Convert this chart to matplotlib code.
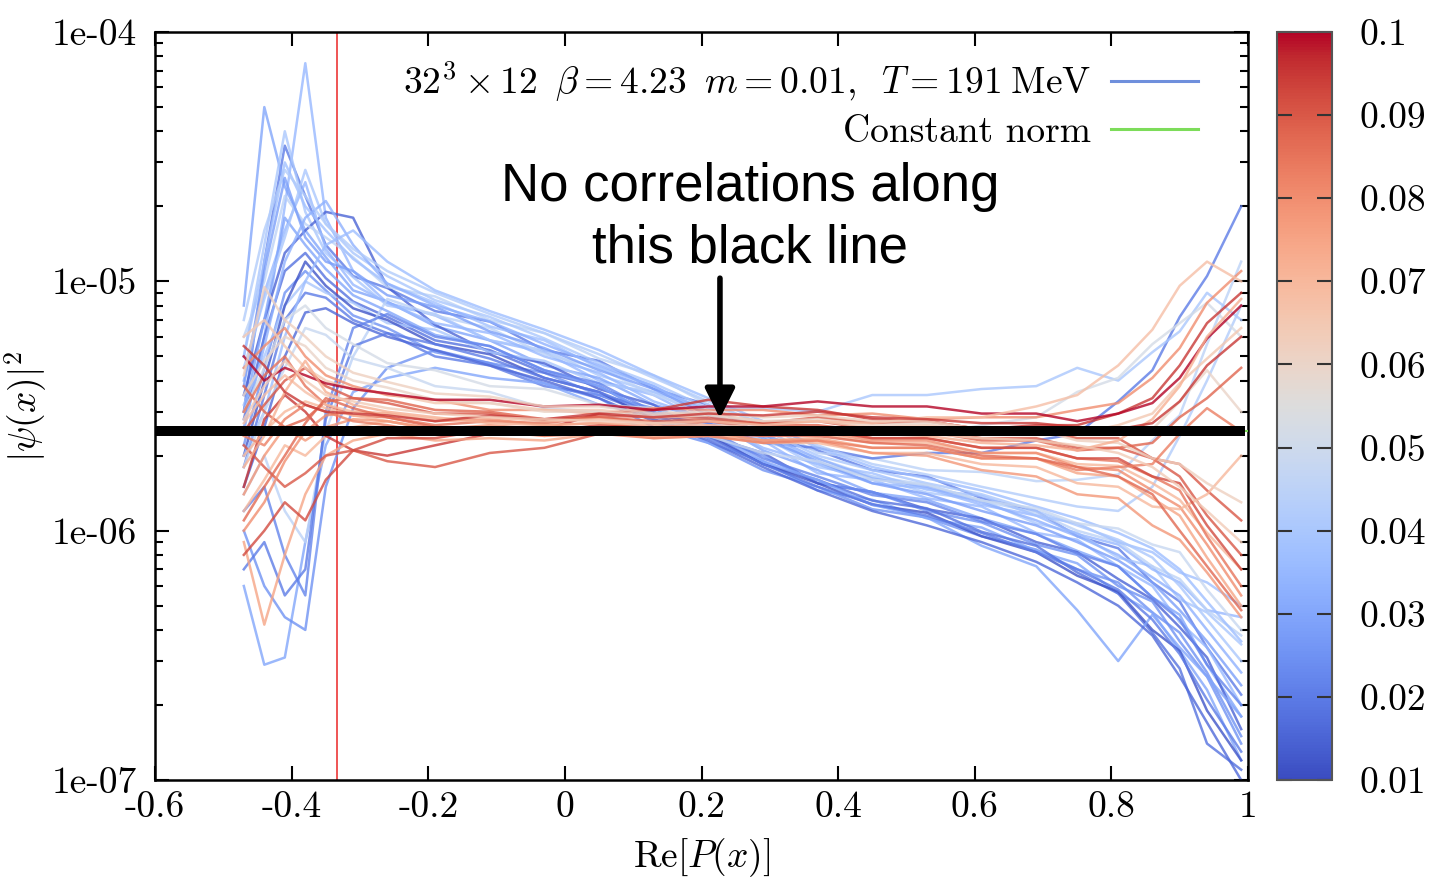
import numpy as np
import matplotlib.pyplot as plt
from matplotlib.colors import Normalize
from matplotlib.cm import ScalarMappable
from matplotlib.lines import Line2D
from matplotlib.ticker import FixedLocator, FixedFormatter, LogLocator, NullFormatter, NullLocator

plt.rcParams['font.family'] = 'cmr10'
plt.rcParams['mathtext.fontset'] = 'cm'
plt.rcParams['axes.unicode_minus'] = False

# Re[P(x)] bins
x_pts = [-0.47, -0.44, -0.41, -0.38, -0.35, -0.31, -0.26, -0.19, -0.11, -0.03, 0.05, 0.13,
         0.21, 0.29, 0.37, 0.45, 0.53, 0.61, 0.69, 0.75, 0.81, 0.86, 0.90, 0.94, 0.99]

# |psi(x)|^2 in units of 1e-6, one row per configuration; colour value per row
blue_c = [0.02, 0.035, 0.03, 0.04, 0.015, 0.025, 0.045, 0.02, 0.03,
          0.025, 0.035, 0.018, 0.04, 0.012, 0.045, 0.03, 0.022, 0.038,
          0.04, 0.028, 0.033, 0.042, 0.016, 0.037, 0.02]
blue_y = [
    [3.0, 12, 35, 22, 14, 10.5, 9.4, 7.6, 6.9, 5.3, 4.8, 3.7, 3.2, 2.4, 2.1, 1.75, 1.65, 1.35, 1.2, 0.95, 0.85, 0.62, 0.52, 0.34, 0.22],
    [2.5, 6.0, 20, 75, 18, 11, 8.2, 7.3, 5.8, 5.2, 4.0, 3.5, 2.7, 2.3, 1.7, 1.6, 1.35, 1.25, 0.98, 0.92, 0.72, 0.6, 0.43, 0.34, 0.2],
    [8.0, 50, 24, 16, 12.5, 9.2, 8.3, 6.6, 5.8, 4.6, 4.1, 3.2, 2.8, 2.1, 1.75, 1.42, 1.33, 1.12, 0.97, 0.83, 0.72, 0.54, 0.46, 0.29, 0.18],
    [5.0, 14, 40, 19, 13, 10.4, 8.0, 7.4, 5.8, 5.3, 4.2, 3.6, 2.8, 2.4, 1.8, 1.65, 1.42, 1.33, 1.07, 0.98, 0.78, 0.72, 0.53, 0.47, 0.35],
    [3.5, 7.0, 13, 16, 19, 18, 9.5, 6.7, 5.2, 4.7, 3.7, 3.2, 2.4, 2.05, 1.55, 1.43, 1.22, 1.12, 0.9, 0.82, 0.64, 0.53, 0.41, 0.31, 0.16],
    [2.2, 4.5, 9.0, 11, 9.2, 7.3, 6.5, 5.2, 4.7, 3.9, 3.4, 2.6, 2.25, 1.75, 1.5, 1.22, 1.13, 0.95, 0.84, 0.7, 0.62, 0.47, 0.39, 0.27, 0.15],
    [6.0, 10, 22, 17, 15, 12.5, 9.5, 8.7, 7.0, 6.2, 4.9, 4.2, 3.2, 2.7, 2.05, 1.95, 1.75, 1.72, 1.58, 1.6, 1.68, 2.3, 2.9, 5.6, 12],
    [1.8, 3.5, 7.0, 9.0, 8.6, 7.0, 6.2, 5.0, 4.6, 3.8, 3.5, 2.9, 2.7, 2.25, 2.15, 1.95, 2.05, 2.05, 2.3, 2.45, 3.3, 4.4, 7.2, 10.5, 20],
    [0.6, 0.29, 0.31, 0.9, 2.2, 3.6, 4.1, 4.5, 4.1, 3.9, 3.2, 2.9, 2.25, 1.9, 1.45, 1.33, 1.12, 1.03, 0.83, 0.74, 0.56, 0.47, 0.33, 0.23, 0.12],
    [1.0, 0.6, 0.45, 0.4, 1.5, 3.1, 4.5, 5.3, 4.7, 4.3, 3.5, 3.1, 2.4, 2.0, 1.55, 1.43, 1.2, 1.08, 0.88, 0.8, 0.6, 0.52, 0.36, 0.26, 0.14],
    [4.0, 9.0, 16, 25, 13.5, 9.7, 8.2, 6.8, 6.2, 5.0, 4.3, 3.3, 2.8, 2.15, 1.85, 1.55, 1.48, 1.27, 1.15, 0.97, 0.88, 0.7, 0.62, 0.48, 0.45],
    [2.8, 6.0, 11, 13, 10.3, 8.3, 7.2, 5.8, 5.3, 4.3, 3.8, 2.9, 2.45, 1.85, 1.6, 1.32, 1.23, 0.99, 0.87, 0.68, 0.56, 0.39, 0.28, 0.14, 0.11],
    [3.2, 5.0, 8.0, 10, 9.0, 8.2, 6.8, 6.4, 5.2, 4.8, 3.9, 3.6, 3.1, 3.1, 3.0, 3.5, 3.5, 3.7, 3.8, 4.5, 4.0, 5.2, 6.3, 9.0, 7.0],
    [2.0, 4.0, 8.0, 12, 9.6, 7.8, 7.0, 5.6, 5.1, 4.1, 3.6, 2.8, 2.4, 1.85, 1.55, 1.27, 1.18, 0.95, 0.82, 0.66, 0.57, 0.4, 0.33, 0.19, 0.12],
    [1.4, 2.0, 1.2, 0.9, 2.5, 5.0, 8.5, 7.3, 6.5, 5.1, 4.5, 3.5, 3.0, 2.3, 1.95, 1.65, 1.53, 1.32, 1.18, 1.0, 0.9, 0.72, 0.64, 0.48, 0.38],
    [3.0, 7.0, 18, 14, 11.2, 8.8, 7.6, 6.1, 5.5, 4.4, 3.8, 2.9, 2.5, 1.9, 1.6, 1.27, 1.13, 0.87, 0.72, 0.48, 0.3, 0.46, 0.34, 0.26, 0.18],
    [1.2, 1.5, 0.8, 0.55, 3.0, 6.5, 7.4, 6.0, 5.5, 4.4, 3.9, 3.0, 2.55, 1.95, 1.65, 1.39, 1.3, 1.09, 0.97, 0.81, 0.72, 0.54, 0.44, 0.29, 0.2],
    [5.0, 12, 30, 20, 16, 12.3, 9.8, 8.2, 6.6, 5.8, 4.5, 3.8, 2.9, 2.5, 1.85, 1.7, 1.46, 1.38, 1.15, 1.07, 0.9, 0.82, 0.68, 0.62, 0.5],
    [4.5, 8.5, 15, 28, 17, 13, 10.5, 8.4, 7.2, 5.9, 4.7, 3.9, 3.1, 2.55, 2.0, 1.75, 1.55, 1.4, 1.2, 1.05, 0.92, 0.78, 0.6, 0.44, 0.3],
    [3.8, 11, 26, 15, 12, 11, 8.8, 7.9, 6.3, 5.4, 4.4, 3.7, 2.9, 2.35, 1.9, 1.55, 1.4, 1.2, 1.05, 0.9, 0.76, 0.62, 0.48, 0.36, 0.24],
    [2.6, 5.5, 12, 18, 21, 14, 9.8, 8.0, 6.9, 5.6, 4.6, 3.8, 3.0, 2.45, 1.95, 1.62, 1.5, 1.3, 1.1, 0.95, 0.8, 0.65, 0.55, 0.4, 0.27],
    [7.0, 16, 28, 22, 17, 13.5, 11, 9.0, 7.4, 6.2, 5.1, 4.1, 3.3, 2.65, 2.2, 1.85, 1.68, 1.5, 1.35, 1.25, 1.2, 1.5, 2.4, 4.0, 8.0],
    [1.5, 2.6, 5.0, 7.5, 7.8, 6.8, 6.0, 5.3, 4.6, 4.0, 3.4, 2.75, 2.3, 1.8, 1.45, 1.2, 1.05, 0.9, 0.75, 0.62, 0.5, 0.38, 0.26, 0.17, 0.1],
    [2.0, 3.0, 6.0, 10, 14, 16, 12, 9.2, 7.6, 6.4, 5.3, 4.2, 3.4, 2.75, 2.15, 1.8, 1.62, 1.45, 1.25, 1.12, 0.98, 0.85, 0.7, 0.52, 0.36],
    [0.7, 0.9, 0.55, 0.7, 2.8, 5.5, 6.2, 5.6, 4.9, 4.1, 3.6, 2.95, 2.35, 1.85, 1.5, 1.28, 1.15, 0.98, 0.82, 0.7, 0.58, 0.44, 0.32, 0.21, 0.13],
]

grey_c = [0.052, 0.048]
grey_y = [
    [3.0, 4.5, 7.0, 8.0, 6.5, 5.6, 4.7, 4.4, 3.8, 3.7, 3.2, 3.1, 2.75, 2.65, 2.4, 2.45, 2.4, 2.65, 2.85, 3.6, 4.1, 5.6, 6.8, 8.2, 6.0],
    [1.8, 3.0, 4.5, 6.5, 6.1, 4.9, 4.5, 3.8, 3.6, 3.1, 3.0, 2.5, 2.4, 2.05, 1.9, 1.6, 1.53, 1.32, 1.23, 1.07, 1.02, 0.88, 0.82, 0.58, 0.4],
]

red_c = [0.09, 0.08, 0.07, 0.095, 0.085, 0.065, 0.075, 0.09, 0.06,
         0.08, 0.1, 0.07, 0.088, 0.078, 0.068, 0.092, 0.062, 0.083,
         0.072, 0.087, 0.095, 0.064]
red_y = [
    [2.5, 3.2, 4.0, 4.5, 3.8, 3.4, 3.25, 2.95, 2.95, 2.75, 2.9, 2.85, 2.85, 2.7, 2.75, 2.55, 2.55, 2.35, 2.35, 2.15, 2.15, 1.95, 1.85, 1.45, 1.1],
    [4.5, 5.5, 6.5, 5.0, 4.2, 3.8, 3.5, 3.35, 3.05, 3.05, 2.95, 3.1, 3.05, 3.05, 2.9, 2.95, 2.8, 2.85, 2.85, 3.05, 3.25, 4.1, 5.4, 8.2, 11],
    [1.2, 1.6, 2.2, 2.0, 2.4, 2.6, 2.75, 2.55, 2.55, 2.4, 2.55, 2.5, 2.55, 2.4, 2.45, 2.25, 2.25, 2.05, 2.05, 1.85, 1.82, 1.55, 1.33, 0.98, 0.7],
    [1.5, 2.8, 3.5, 3.0, 2.4, 2.1, 2.0, 2.2, 2.45, 2.55, 2.95, 3.05, 3.35, 3.15, 3.05, 2.8, 2.75, 2.55, 2.65, 2.65, 2.95, 3.4, 4.6, 6.8, 9.0],
    [3.0, 4.2, 5.0, 3.8, 3.2, 2.9, 2.85, 2.65, 2.75, 2.7, 2.85, 2.7, 2.75, 2.55, 2.55, 2.35, 2.35, 2.15, 2.15, 1.95, 1.9, 1.65, 1.45, 0.95, 0.6],
    [6.0, 7.0, 5.5, 4.5, 4.0, 3.7, 3.55, 3.25, 3.25, 3.05, 3.05, 2.9, 2.95, 2.75, 2.75, 2.6, 2.65, 2.5, 2.55, 2.45, 2.65, 2.95, 3.9, 4.9, 6.5],
    [0.9, 0.42, 0.8, 1.4, 2.0, 2.3, 2.45, 2.3, 2.35, 2.3, 2.45, 2.4, 2.45, 2.3, 2.35, 2.15, 2.15, 1.95, 1.95, 1.7, 1.65, 1.35, 1.15, 0.78, 0.5],
    [2.2, 1.8, 1.5, 1.7, 2.0, 2.1, 1.9, 1.8, 2.05, 2.15, 2.45, 2.55, 2.75, 2.7, 2.85, 2.7, 2.75, 2.55, 2.55, 2.35, 2.35, 1.95, 1.65, 1.15, 0.8],
    [3.5, 4.8, 6.0, 5.5, 4.5, 4.0, 3.75, 3.35, 3.25, 3.0, 3.0, 2.85, 2.9, 2.75, 2.8, 2.65, 2.7, 2.55, 2.6, 2.45, 2.5, 2.55, 3.3, 4.4, 3.0],
    [1.0, 1.3, 1.9, 2.5, 2.9, 3.0, 2.95, 2.75, 2.8, 2.65, 2.7, 2.55, 2.6, 2.45, 2.5, 2.3, 2.3, 2.05, 2.05, 1.8, 1.75, 1.45, 1.25, 0.88, 0.55],
    [5.0, 4.0, 4.5, 4.2, 3.9, 3.7, 3.55, 3.35, 3.35, 3.15, 3.2, 3.05, 3.15, 3.15, 3.3, 3.15, 3.15, 2.95, 2.95, 2.75, 2.95, 3.25, 4.1, 5.9, 8.0],
    [2.0, 2.5, 3.0, 3.3, 3.1, 2.9, 2.75, 2.55, 2.6, 2.45, 2.5, 2.35, 2.4, 2.25, 2.25, 2.05, 2.05, 1.85, 1.8, 1.55, 1.5, 1.25, 1.22, 1.4, 2.0],
    [3.8, 3.0, 2.6, 2.8, 3.3, 3.4, 3.35, 3.05, 3.0, 2.8, 2.85, 2.75, 2.8, 2.65, 2.65, 2.5, 2.5, 2.3, 2.3, 2.1, 2.15, 2.25, 2.85, 3.4, 4.5],
    [1.4, 2.0, 2.6, 2.3, 2.6, 2.8, 2.75, 2.55, 2.65, 2.55, 2.6, 2.45, 2.5, 2.3, 2.3, 2.05, 2.0, 1.75, 1.65, 1.4, 1.35, 1.05, 0.92, 0.68, 0.45],
    [2.7, 3.5, 4.2, 3.6, 3.2, 3.0, 2.95, 2.8, 2.85, 2.75, 2.8, 2.7, 2.75, 2.65, 2.75, 2.7, 2.85, 2.85, 3.15, 3.5, 4.6, 6.4, 9.6, 12, 10],
    [0.8, 1.0, 1.3, 1.1, 1.6, 2.1, 2.35, 2.35, 2.55, 2.5, 2.65, 2.6, 2.65, 2.5, 2.55, 2.35, 2.35, 2.15, 2.15, 1.95, 1.95, 1.65, 1.55, 1.05, 0.7],
    [4.2, 9.5, 7.0, 6.0, 5.0, 4.3, 3.95, 3.55, 3.45, 3.15, 3.15, 2.95, 3.0, 2.85, 2.9, 2.75, 2.75, 2.55, 2.55, 2.3, 2.25, 1.95, 1.85, 1.55, 1.3],
    [2.4, 2.2, 2.8, 3.2, 3.0, 2.75, 2.65, 2.45, 2.5, 2.4, 2.45, 2.35, 2.4, 2.25, 2.3, 2.15, 2.15, 1.95, 1.95, 1.75, 1.8, 1.85, 2.45, 3.1, 2.5],
    [1.8, 2.4, 3.6, 4.8, 3.6, 3.2, 3.0, 2.85, 2.7, 2.65, 2.7, 2.65, 2.6, 2.55, 2.6, 2.45, 2.4, 2.25, 2.2, 2.1, 2.3, 2.8, 3.8, 6.0, 8.5],
    [1.1, 1.5, 2.0, 2.7, 3.4, 3.1, 2.85, 2.6, 2.5, 2.5, 2.55, 2.5, 2.45, 2.4, 2.4, 2.25, 2.2, 2.0, 1.95, 1.8, 1.65, 1.4, 1.0, 0.72, 0.48],
    [5.5, 4.6, 3.6, 3.2, 3.0, 2.95, 2.9, 2.75, 2.9, 2.8, 2.95, 2.85, 2.95, 2.9, 3.0, 2.85, 2.8, 2.7, 2.7, 2.6, 2.55, 2.7, 3.3, 4.6, 6.0],
    [2.8, 3.8, 4.8, 4.0, 3.5, 3.3, 3.1, 2.95, 2.85, 2.8, 2.75, 2.7, 2.65, 2.6, 2.55, 2.5, 2.45, 2.35, 2.3, 2.2, 2.05, 1.8, 1.5, 1.2, 0.9],
]

norm_level = 2.5e-6
polyakov_cut = -1.0 / 3.0
xticks = [-0.6, -0.4, -0.2, 0, 0.2, 0.4, 0.6, 0.8, 1.0]
xtick_labels = ['-0.6', '-0.4', '-0.2', '0', '0.2', '0.4', '0.6', '0.8', '1']
yticks = [1e-7, 1e-6, 1e-5, 1e-4]
ytick_labels = ['1e-07', '1e-06', '1e-05', '1e-04']
cticks = [0.01, 0.02, 0.03, 0.04, 0.05, 0.06, 0.07, 0.08, 0.09, 0.1]
ctick_labels = ['0.01', '0.02', '0.03', '0.04', '0.05', '0.06', '0.07', '0.08', '0.09', '0.1']

cmap = plt.get_cmap('coolwarm')
norm = Normalize(vmin=0.01, vmax=0.1)

fig = plt.figure(figsize=(14.34, 8.8), dpi=100)
ax = fig.add_axes([0.1081, 0.1136, 0.7622, 0.85])
cax = fig.add_axes([0.8905, 0.1136, 0.0384, 0.85])

ax.axvline(polyakov_cut, color='#ee4747', lw=1.3, zorder=1)

all_c = blue_c + grey_c + red_c
all_y = blue_y + grey_y + red_y
for c, y in zip(all_c, all_y):
    ax.plot(x_pts, np.array(y) * 1e-6, color=cmap(norm(c)), lw=1.8, alpha=0.8, zorder=2)

ax.axhline(norm_level, color='#7ddc5a', lw=1.5, zorder=4)
ax.plot([-0.6, 0.996], [norm_level, norm_level], color='black', lw=7.2,
        solid_capstyle='butt', zorder=5)

ax.set_yscale('log')
ax.set_xlim(-0.6, 1.0)
ax.set_ylim(1e-7, 1e-4)
ax.xaxis.set_major_locator(FixedLocator(xticks))
ax.xaxis.set_major_formatter(FixedFormatter(xtick_labels))
ax.xaxis.set_minor_locator(NullLocator())
ax.yaxis.set_major_locator(FixedLocator(yticks))
ax.yaxis.set_major_formatter(FixedFormatter(ytick_labels))
ax.yaxis.set_minor_locator(LogLocator(base=10, subs=np.arange(2, 10) * 1.0, numticks=20))
ax.yaxis.set_minor_formatter(NullFormatter())
ax.tick_params(which='both', direction='in', top=True, right=True, labelsize=27, width=1.5)
ax.tick_params(which='major', length=10)
ax.tick_params(which='minor', length=6)
ax.tick_params(axis='x', pad=8)
ax.tick_params(axis='y', pad=13)
for sp in ax.spines.values():
    sp.set_linewidth(1.8)

ax.set_xlabel(r'$\mathrm{Re}[P(x)]$', fontsize=27)
ax.xaxis.set_label_coords(0.5, -0.075)
ax.set_ylabel(r'$|\psi(x)|^2$', fontsize=27)
ax.yaxis.set_label_coords(-0.097, 0.5)

handles = [Line2D([], [], color='#6f8fdc', lw=2.2),
           Line2D([], [], color='#7ddc5a', lw=2.2)]
labels = [r'$32^3 \times 12\;\;\beta = 4.23\;\;m = 0.01,\;\;T = 191\;$MeV', 'Constant norm']
ax.legend(handles, labels, loc='upper right', bbox_to_anchor=(0.954, 0.963), frameon=False,
          fontsize=27, markerfirst=False, handlelength=2.3, handletextpad=0.55,
          labelspacing=0.3, borderaxespad=0, borderpad=0)

ax.text(0.271, 1.8e-5, 'No correlations along\nthis black line', fontsize=38,
        family=['Liberation Sans', 'DejaVu Sans'], ha='center', va='center',
        linespacing=1.28, zorder=6)
ax.annotate('', xy=(0.227, 2.82e-6), xytext=(0.227, 1.03e-5),
            arrowprops=dict(arrowstyle='-|>', color='black', lw=4, mutation_scale=45,
                            shrinkA=0, shrinkB=0), zorder=6)

sm = ScalarMappable(norm=norm, cmap=cmap)
cbar = fig.colorbar(sm, cax=cax, ticks=cticks)
cbar.ax.set_yticklabels(ctick_labels)
cbar.outline.set_edgecolor('#555555')
cbar.outline.set_linewidth(1.5)
cbar.ax.tick_params(direction='in', length=11, width=1.5, color='#333333',
                    left=True, right=True, labelsize=27, pad=20)

fig.savefig('out.png', dpi=100)
